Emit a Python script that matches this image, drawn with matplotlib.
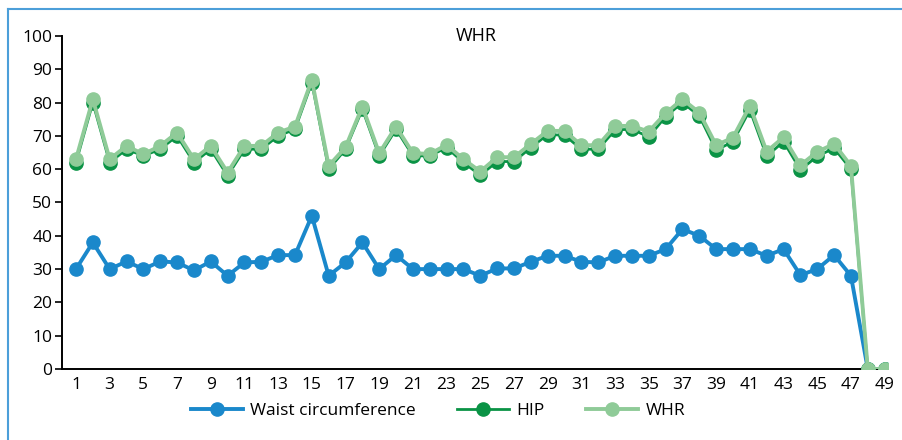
import matplotlib.pyplot as plt
from matplotlib.lines import Line2D

plt.rcParams['font.family'] = ['Open Sans', 'DejaVu Sans']

# data
x = list(range(1, 50))
waist = [30, 38, 30, 32.3, 30, 32.3, 32, 29.6, 32.3, 28, 32, 32.2, 34.2, 34.2, 46,
         28, 32, 38, 30, 34.2, 30, 30, 30, 30, 28, 30.2, 30.2, 32.2, 34, 34,
         32.2, 32, 34, 34, 34, 36, 42, 40, 36, 36, 36, 34, 36, 28.2, 30, 34.2, 28, 0, 0]
hip = [62, 80, 62, 66, 64, 66, 70, 62, 66, 58, 66, 66, 70, 72, 86,
       60, 66, 78, 64, 72, 64, 64, 66.5, 62, 58.2, 62.3, 62.3, 66.5, 70.4, 70.2,
       66, 66, 71.8, 72, 69.7, 75.8, 80, 76, 65.7, 68.3, 77.8, 63.9, 68.3, 59.8, 63.9, 66.3, 60, 0, 0]
whr = [63, 81, 63, 67, 64.5, 67, 71, 63, 67, 59, 67, 67, 71, 72.8, 86.8,
       61, 66.6, 78.8, 64.8, 72.8, 64.8, 64.6, 67.3, 63, 59.3, 63.6, 63.6, 67.6, 71.5, 71.5,
       67.2, 67.2, 73, 73, 71.3, 76.8, 81, 77, 67.2, 69.5, 79, 65.3, 69.6, 61.2, 65.2, 67.6, 61, 0, 0]
xticks = list(range(1, 50, 2))

c_waist = '#1a88cb'
c_hip = '#0a9345'
c_whr = '#8fcb98'

fig = plt.figure(figsize=(9.03, 4.40), dpi=100)
ax = fig.add_axes([62 / 903, 1 - 369 / 440, 826 / 903, 333 / 440])

ax.plot(x, waist, '-o', color=c_waist, lw=2.8, ms=9.5, label='Waist circumference', zorder=3)
ax.plot(x, hip, '-o', color=c_hip, lw=2.0, ms=9.5, label='HIP', zorder=4)
ax.plot(x, whr, '-o', color=c_whr, lw=2.8, ms=9.5, label='WHR', zorder=5)

ax.set_xlim(0.17, 49.2)
ax.set_ylim(0, 100)
ax.set_yticks(range(0, 101, 10))
ax.set_xticks(xticks)
ax.tick_params(axis='y', length=5, width=1.2, labelsize=12.5, pad=2)
ax.tick_params(axis='x', length=0, labelsize=12.5, pad=6)
for s in ['top', 'right']:
    ax.spines[s].set_visible(False)
ax.spines['left'].set_linewidth(1.4)
ax.spines['bottom'].set_linewidth(1.4)
for sp in ax.spines.values():
    sp.set_clip_on(False)

fig.text(476 / 903, 1 - 36 / 440, 'WHR', ha='center', va='center', fontsize=13)

fig.legend(loc='center', bbox_to_anchor=(438 / 903, 1 - 411 / 440), ncol=3, frameon=False,
           fontsize=12.5, handlelength=3, handletextpad=0.4, columnspacing=2.4)

# light blue frame (cropped box: only top and left edges visible)
fig.add_artist(Line2D([8 / 903, 8 / 903], [0, 1 - 9 / 440], color='#4c9fd9', lw=1.5))
fig.add_artist(Line2D([8 / 903, 1], [1 - 9 / 440, 1 - 9 / 440], color='#4c9fd9', lw=1.5))

fig.savefig('out.png', dpi=100)
